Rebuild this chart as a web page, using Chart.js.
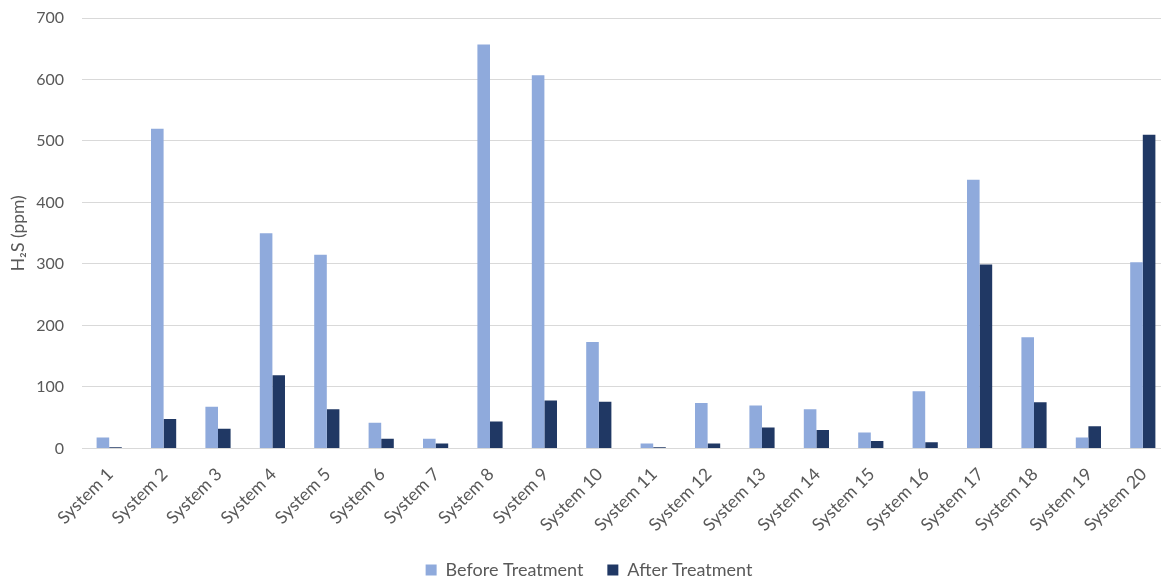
<!DOCTYPE html>
<html>
<head>
<meta charset="utf-8">
<script src="https://cdn.jsdelivr.net/npm/chart.js@4/dist/chart.umd.min.js"></script>
<style>
  html, body { margin: 0; padding: 0; background: #ffffff; overflow: hidden; }
  /* the plot runs slightly past the right edge of the visible area */
  #wrap { width: 1161px; height: 580px; position: relative; overflow: hidden; }
</style>
</head>
<body>
<div id="wrap"><canvas id="c" width="1170" height="580"></canvas></div>
<script>
const categories = [
  "System 1", "System 2", "System 3", "System 4", "System 5",
  "System 6", "System 7", "System 8", "System 9", "System 10",
  "System 11", "System 12", "System 13", "System 14", "System 15",
  "System 16", "System 17", "System 18", "System 19", "System 20"
];
const beforeTreatment = [18, 520, 68, 350, 315, 42, 16, 657, 607, 173, 8, 74, 70, 64, 26, 93, 437, 181, 18, 303];
const afterTreatment  = [2, 48, 32, 119, 64, 16, 8, 44, 78, 76, 2, 8, 34, 30, 12, 10, 299, 75, 36, 510];
const yTicks = [0, 100, 200, 300, 400, 500, 600, 700];

const textColor = '#595959';
const gridColor = '#d9d9d9';
const fontFamily = 'Lato, "Open Sans", sans-serif';

new Chart(document.getElementById('c'), {
  type: 'bar',
  data: {
    labels: categories,
    datasets: [
      { label: 'Before Treatment', data: beforeTreatment, backgroundColor: '#8faadc', borderWidth: 0 },
      { label: 'After Treatment', data: afterTreatment, backgroundColor: '#203864', borderWidth: 0 }
    ]
  },
  options: {
    responsive: false,
    animation: false,
    layout: { padding: { left: 8, right: 0, top: 0, bottom: -9 } },
    datasets: { bar: { categoryPercentage: 0.463, barPercentage: 1.0 } },
    plugins: {
      legend: {
        position: 'bottom',
        labels: {
          color: textColor,
          font: { family: fontFamily, size: 18 },
          boxWidth: 11, boxHeight: 11, padding: 24
        }
      },
      tooltip: { enabled: false }
    },
    scales: {
      x: {
        grid: { display: false },
        border: { color: gridColor, width: 1 },
        // rotated labels may hang past the plot edges and into the gap above the legend
        afterFit: axis => { axis.paddingLeft = 0; axis.paddingRight = 0; axis.height -= 6; },
        ticks: {
          color: textColor,
          font: { family: fontFamily, size: 17.5 },
          minRotation: 45, maxRotation: 45,
          autoSkip: false, padding: 7.5, labelOffset: 1
        }
      },
      y: {
        min: 0, max: 700,
        afterBuildTicks: axis => { axis.ticks = yTicks.map(v => ({ value: v })); },
        afterFit: axis => { axis.width = 74; axis.paddingTop = 18; },
        grid: { color: gridColor, lineWidth: 1, drawTicks: false },
        border: { display: false },
        ticks: {
          color: textColor,
          font: { family: fontFamily, size: 16 },
          padding: 18
        },
        title: {
          display: true,
          text: 'H\u2082S (ppm)',
          color: textColor,
          font: { family: fontFamily, size: 17.5 },
          padding: { top: 0, bottom: 8 }
        }
      }
    }
  }
});
</script>
</body>
</html>
